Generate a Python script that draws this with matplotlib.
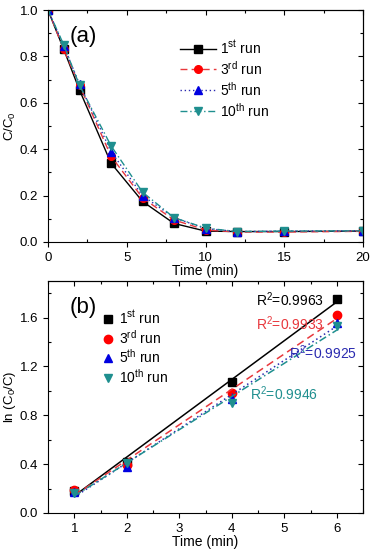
import matplotlib.pyplot as plt
import numpy as np

plt.rcParams['font.family'] = ['Liberation Sans', 'DejaVu Sans']
plt.rcParams['font.size'] = 9.5
plt.rcParams['mathtext.fontset'] = 'custom'
plt.rcParams['mathtext.rm'] = 'Liberation Sans'
plt.rcParams['mathtext.it'] = 'Liberation Sans'
plt.rcParams['mathtext.default'] = 'regular'

# (a) C/C0 vs time
t_a = [0, 1, 2, 4, 6, 8, 10, 12, 15, 20]
run1 = [1.0, 0.83, 0.655, 0.34, 0.175, 0.08, 0.047, 0.045, 0.045, 0.047]
run3 = [1.0, 0.83, 0.675, 0.37, 0.19, 0.095, 0.052, 0.043, 0.043, 0.046]
run5 = [1.0, 0.845, 0.68, 0.39, 0.20, 0.105, 0.058, 0.045, 0.047, 0.048]
run10 = [1.0, 0.85, 0.675, 0.415, 0.215, 0.105, 0.06, 0.045, 0.047, 0.048]

# (b) ln(C0/C) vs time
t_b = [1, 2, 4, 6]
ln1 = [0.18, 0.42, 1.07, 1.75]
ln3 = [0.19, 0.39, 0.98, 1.62]
ln5 = [0.17, 0.38, 0.93, 1.56]
ln10 = [0.16, 0.41, 0.90, 1.53]
r2 = ['0.9963', '0.9933', '0.9925', '0.9946']
r2_pos = [(5.11, 1.745), (5.11, 1.55), (5.74, 1.31), (4.99, 0.98)]

labels = ['1$^{st}$ run', '3$^{rd}$ run', '5$^{th}$ run', '10$^{th}$ run']
colors = ['black', '#ff0000', '#0000e0', '#1f8f8f']
line_colors = ['black', '#e8383d', '#2a2ab0', '#1f8f8f']
markers = ['s', 'o', '^', 'v']
styles = ['-', (0, (5, 3)), (0, (1, 2)), (0, (5, 2, 1, 2))]

fig = plt.figure(figsize=(3.75, 5.5), dpi=100)
ax1 = fig.add_axes([0.128, 0.56, 0.84, 0.4218])
ax2 = fig.add_axes([0.128, 0.0673, 0.84, 0.4218])


def style_axes(ax):
    ax.tick_params(which='major', direction='out', length=3.5, width=0.8)
    ax.tick_params(which='minor', direction='in', length=2.5, width=0.8)
    sx = ax.secondary_xaxis('top')
    sy = ax.secondary_yaxis('right')
    sx.set_xticks(ax.get_xticks())
    sx.set_xticklabels([])
    sx.set_xticks(ax.xaxis.get_minorticklocs(), minor=True)
    sy.set_yticks(ax.get_yticks())
    sy.set_yticklabels([])
    sy.set_yticks(ax.yaxis.get_minorticklocs(), minor=True)
    for s in (sx, sy):
        s.tick_params(which='major', direction='in', length=3.5, width=0.8)
        s.tick_params(which='minor', direction='in', length=2.5, width=0.8)


for ys, lab, c, lc, m, ls in zip([run1, run3, run5, run10], labels, colors,
                                 line_colors, markers, styles):
    ax1.plot(t_a, ys, color=lc, linestyle=ls, lw=1, marker=m, ms=5.5,
             mfc=c, mec=c, label=lab)
ax1.set_xlim(0, 20)
ax1.set_ylim(0, 1.0)
ax1.set_xticks([0, 5, 10, 15, 20])
ax1.set_yticks(np.arange(0, 1.01, 0.2))
ax1.xaxis.set_minor_locator(plt.MultipleLocator(2.5))
ax1.yaxis.set_minor_locator(plt.MultipleLocator(0.1))
ax1.set_xlabel('Time (min)', fontsize=10, labelpad=0)
ax1.set_ylabel('C/C$_0$', fontsize=9.5, labelpad=1)
ax1.text(0.07, 0.93, '(a)', transform=ax1.transAxes, fontsize=16, va='top')
ax1.legend(loc='upper left', bbox_to_anchor=(0.40, 0.9), frameon=False,
           fontsize=10, handlelength=2.6, labelspacing=0.22,
           handletextpad=0.3, borderaxespad=0)
style_axes(ax1)

for ys, lab, c, lc, m, ls in zip([ln1, ln3, ln5, ln10], labels, colors,
                                 line_colors, markers, styles):
    ax2.plot(t_b, ys, linestyle='none', marker=m, ms=6, mfc=c, mec=c,
             label=lab)
    k, b = np.polyfit(t_b, ys, 1)
    xx = np.array([t_b[0], t_b[-1]])
    ax2.plot(xx, k * xx + b, color=lc, linestyle=ls, lw=1.1)
for (x, y), r, c in zip(r2_pos, r2, line_colors):
    ax2.text(x, y, 'R$^2$=' + r, color=c, fontsize=10, ha='center',
             va='center')
ax2.set_xlim(0.5, 6.5)
ax2.set_ylim(0, 1.9)
ax2.set_xticks([1, 2, 3, 4, 5, 6])
ax2.set_yticks([0, 0.4, 0.8, 1.2, 1.6])
ax2.xaxis.set_minor_locator(plt.MultipleLocator(0.5))
ax2.yaxis.set_minor_locator(plt.MultipleLocator(0.2))
ax2.set_xlabel('Time (min)', fontsize=10, labelpad=0)
ax2.set_ylabel('ln (C$_0$/C)', fontsize=9.5, labelpad=1)
ax2.text(0.07, 0.93, '(b)', transform=ax2.transAxes, fontsize=16, va='top')
ax2.legend(loc='upper left', bbox_to_anchor=(0.15, 0.902), frameon=False,
           fontsize=10, handlelength=1.0, labelspacing=0.12,
           handletextpad=0.3, borderaxespad=0)
style_axes(ax2)

fig.savefig('out.png', dpi=100)
